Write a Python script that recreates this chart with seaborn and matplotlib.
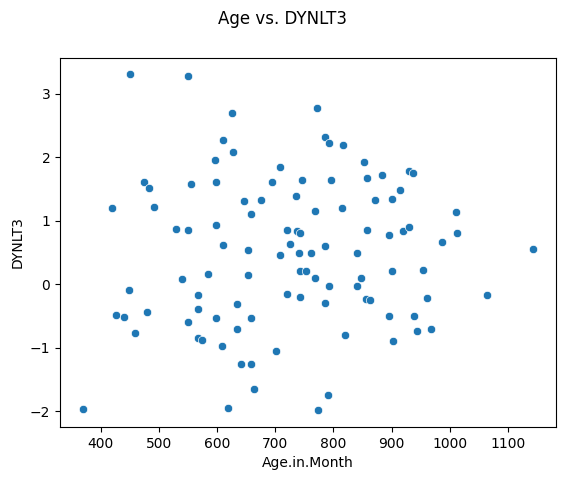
import pandas as pd
import matplotlib
matplotlib.use("Agg")
import matplotlib.pyplot as plt
import seaborn as sns

age_month = [
    450, 549.5, 625, 611, 627, 596, 709, 475, 484, 556,
    599, 695, 746, 419, 491, 647, 675, 659, 735, 529,
    551, 599, 719.5, 737, 742, 611, 726, 652.5, 709, 740,
    743, 752, 584, 652.5, 539, 448, 567, 719.5, 742, 634,
    426, 440, 479, 568, 549.5, 599, 659, 458.5, 634, 568,
    575, 608, 700.6, 642, 659, 663, 369, 618, 771, 786,
    793, 816, 852, 795, 857, 884, 929, 937.5, 913.5, 872,
    900, 768, 814, 1010, 857, 896, 920, 929, 1013, 785,
    986, 761, 840, 1143.5, 768, 792, 840, 848, 900, 953,
    785, 856, 863, 960, 1064.5, 895, 939, 943, 968, 819,
    903, 790, 774,
]
dynlt3 = [
    3.305, 3.273, 2.691, 2.266, 2.077, 1.951, 1.841, 1.605, 1.511, 1.574,
    1.605, 1.605, 1.637, 1.196, 1.212, 1.306, 1.322, 1.101, 1.385, 0.865,
    0.850, 0.928, 0.850, 0.834, 0.803, 0.618, 0.634, 0.535, 0.456, 0.488,
    0.205, 0.205, 0.157, 0.142, 0.079, -0.094, -0.173, -0.157, -0.205, -0.315,
    -0.488, -0.519, -0.441, -0.393, -0.598, -0.535, -0.535, -0.771, -0.708, -0.850,
    -0.881, -0.976, -1.054, -1.259, -1.259, -1.652, -1.967, -1.951, 2.769, 2.318,
    2.219, 2.187, 1.920, 1.637, 1.668, 1.715, 1.778, 1.747, 1.479, 1.322,
    1.338, 1.149, 1.196, 1.133, 0.850, 0.771, 0.834, 0.897, 0.803, 0.603,
    0.661, 0.488, 0.488, 0.551, 0.094, -0.031, -0.031, 0.094, 0.205, 0.220,
    -0.299, -0.236, -0.252, -0.220, -0.173, -0.504, -0.504, -0.740, -0.708, -0.803,
    -0.897, -1.747, -1.983,
]

df = pd.DataFrame({"Age.in.Month": age_month, "DYNLT3": dynlt3})

fig, ax = plt.subplots(figsize=(5.65, 4.8), dpi=100)
fig.subplots_adjust(left=0.1062, right=0.984, bottom=0.11, top=0.88)

sns.scatterplot(data=df, x="Age.in.Month", y="DYNLT3", ax=ax)
fig.suptitle("Age vs. DYNLT3")

plt.savefig("out.png", dpi=100)
